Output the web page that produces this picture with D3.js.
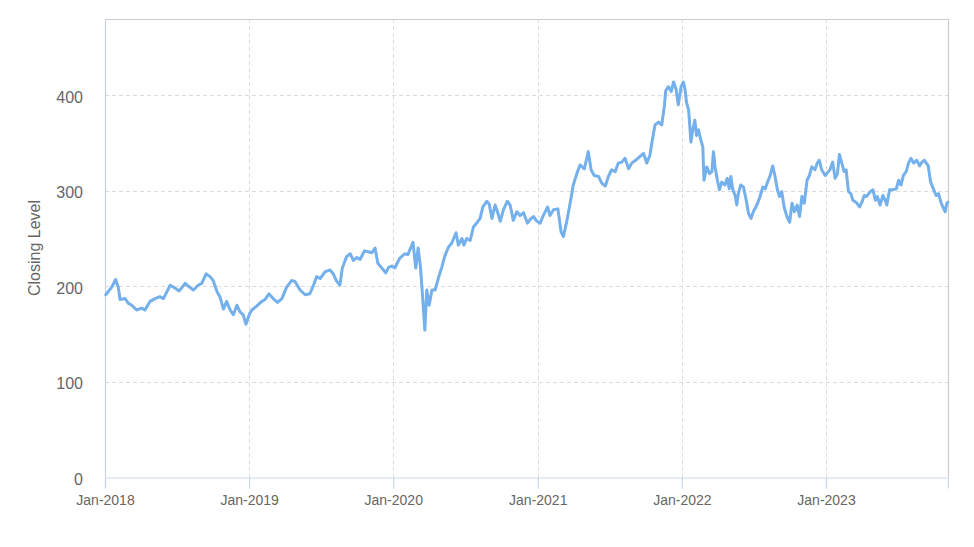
<!DOCTYPE html>
<html>
<head>
<meta charset="utf-8">
<script src="https://cdn.jsdelivr.net/npm/d3@7"></script>
<style>
  html, body { margin: 0; padding: 0; background: #ffffff; }
  svg { display: block; font-family: "Liberation Sans", Arial, sans-serif; }
</style>
</head>
<body>
<svg id="chart" width="974" height="547"></svg>
<script>
// ---- data ----
const dates = [
  "2018-01-03","2018-01-18","2018-01-28","2018-02-04","2018-02-08","2018-02-21","2018-03-01","2018-03-10","2018-03-22","2018-04-04",
  "2018-04-12","2018-04-25","2018-05-08","2018-05-20","2018-05-29","2018-06-15","2018-06-27","2018-07-08","2018-07-23","2018-08-03",
  "2018-08-13","2018-08-25","2018-09-03","2018-09-14","2018-09-24","2018-10-02","2018-10-12","2018-10-19","2018-10-28","2018-11-05",
  "2018-11-14","2018-11-22","2018-12-01","2018-12-09","2018-12-17","2018-12-24","2019-01-02","2019-01-08","2019-01-20","2019-02-02",
  "2019-02-10","2019-02-20","2019-03-03","2019-03-14","2019-03-25","2019-04-06","2019-04-19","2019-04-27","2019-05-10","2019-05-23",
  "2019-06-04","2019-06-13","2019-06-21","2019-06-30","2019-07-12","2019-07-25","2019-08-02","2019-08-11","2019-08-19","2019-08-25",
  "2019-09-05","2019-09-14","2019-09-22","2019-10-01","2019-10-09","2019-10-20","2019-10-30","2019-11-08","2019-11-16","2019-11-23",
  "2019-12-03","2019-12-13","2019-12-21","2019-12-28","2020-01-05","2020-01-17","2020-01-30","2020-02-07","2020-02-20","2020-02-27",
  "2020-03-04","2020-03-10","2020-03-15","2020-03-21","2020-03-26","2020-04-01","2020-04-08","2020-04-16","2020-04-24","2020-05-03",
  "2020-05-11","2020-05-20","2020-05-28","2020-06-08","2020-06-14","2020-06-23","2020-06-28","2020-07-05","2020-07-14","2020-07-22",
  "2020-08-01","2020-08-08","2020-08-15","2020-08-25","2020-08-31","2020-09-07","2020-09-15","2020-09-21","2020-09-28","2020-10-06",
  "2020-10-16","2020-10-23","2020-10-31","2020-11-09","2020-11-17","2020-11-26","2020-12-06","2020-12-13","2020-12-21","2020-12-30",
  "2021-01-07","2021-01-15","2021-01-26","2021-02-01","2021-02-10","2021-02-21","2021-03-01","2021-03-07","2021-03-16","2021-03-24",
  "2021-04-01","2021-04-10","2021-04-18","2021-04-29","2021-05-09","2021-05-16","2021-05-24","2021-06-04","2021-06-12","2021-06-21",
  "2021-06-29","2021-07-07","2021-07-16","2021-07-24","2021-08-02","2021-08-10","2021-08-19","2021-08-27","2021-09-09","2021-09-17",
  "2021-09-26","2021-10-04","2021-10-12","2021-10-18","2021-10-25","2021-11-03","2021-11-11","2021-11-18","2021-11-21","2021-11-28",
  "2021-12-05","2021-12-11","2021-12-17","2021-12-23","2021-12-30","2022-01-05","2022-01-09","2022-01-13","2022-01-18","2022-01-24",
  "2022-01-29","2022-02-03","2022-02-07","2022-02-12","2022-02-18","2022-02-23","2022-02-26","2022-03-05","2022-03-12","2022-03-18",
  "2022-03-22","2022-03-26","2022-04-01","2022-04-06","2022-04-12","2022-04-20","2022-04-26","2022-05-01","2022-05-05","2022-05-10",
  "2022-05-16","2022-05-20","2022-05-24","2022-05-30","2022-06-06","2022-06-13","2022-06-19","2022-06-25","2022-07-01","2022-07-10",
  "2022-07-18","2022-07-25","2022-07-31","2022-08-06","2022-08-12","2022-08-19","2022-08-25","2022-08-31","2022-09-05","2022-09-11",
  "2022-09-17","2022-09-24","2022-10-01","2022-10-07","2022-10-13","2022-10-20","2022-10-26","2022-11-01","2022-11-07","2022-11-14",
  "2022-11-20","2022-11-26","2022-12-04","2022-12-10","2022-12-15","2022-12-21","2022-12-30","2023-01-03","2023-01-07","2023-01-11",
  "2023-01-18","2023-01-24","2023-01-30","2023-02-04","2023-02-10","2023-02-16","2023-02-21","2023-02-27","2023-03-05","2023-03-10",
  "2023-03-18","2023-03-27","2023-04-02","2023-04-08","2023-04-14","2023-04-23","2023-04-30","2023-05-06","2023-05-11","2023-05-18",
  "2023-05-25","2023-05-31","2023-06-04","2023-06-11","2023-06-19","2023-06-28","2023-07-04","2023-07-10","2023-07-16","2023-07-23",
  "2023-07-29","2023-08-04","2023-08-11","2023-08-19","2023-08-26","2023-09-01","2023-09-07","2023-09-12","2023-09-17","2023-09-23",
  "2023-09-30","2023-10-07","2023-10-13","2023-10-19","2023-10-24","2023-10-30","2023-11-03","2023-11-06"
];
const closes = [
  191,199,207,198,186,187,182,180,175,177,
  175,184,187,189,187,201,198,195,203,199,
  196,201,203,213,210,206,194,189,176,184,
  175,170,180,173,170,160,171,175,179,184,
  186,192,187,183,187,199,206,205,196,191,
  192,201,210,208,215,217,213,205,201,219,
  231,234,227,230,228,237,236,235,240,224,
  219,214,220,221,219,229,234,233,246,219,
  240,220,191,154,196,180,196,196,208,220,
  232,241,245,256,243,250,243,250,248,262,
  267,271,283,289,286,271,285,278,268,280,
  289,285,269,278,274,277,266,270,273,268,
  266,274,283,274,280,281,257,252,269,287,
  306,318,327,323,341,322,316,315,308,305,
  315,322,320,329,330,334,323,329,333,336,
  339,329,337,353,369,372,369,390,405,409,
  404,414,407,390,409,414,406,392,385,351,
  365,374,358,364,353,346,311,325,318,320,
  341,325,311,301,309,306,313,302,315,301,
  295,285,297,306,304,290,276,271,278,285,
  294,304,302,309,315,326,315,301,294,299,
  283,273,267,287,278,285,273,294,287,311,
  316,325,322,329,332,322,316,318,320,322,
  330,313,318,338,329,320,322,299,297,290,
  288,283,288,295,294,299,301,290,294,285,
  295,290,285,301,301,302,311,306,316,320,
  329,334,329,332,326,330,332,329,326,309,
  302,295,297,288,283,278,287,288
];
const yTicks = [0, 100, 200, 300, 400];
const xTickLabels = ["Jan-2018","Jan-2019","Jan-2020","Jan-2021","Jan-2022","Jan-2023"];
const xTickDates = ["2018-01-01","2019-01-01","2020-01-01","2021-01-01","2022-01-01","2023-01-01"];
const yTitle = "Closing Level";

// ---- drawing ----
const parse = d3.timeParse("%Y-%m-%d");
const data = dates.map((d, i) => ({ date: parse(d), value: closes[i] }));

const svg = d3.select("#chart");
const plot = { left: 105, right: 948, top: 19, bottom: 477 };

const x = d3.scaleTime()
  .domain([parse("2018-01-01"), data[data.length - 1].date])
  .range([plot.left, plot.right]);
const y = d3.scaleLinear().domain([0, 480]).range([plot.bottom, plot.top]);

svg.append("rect").attr("width", 974).attr("height", 547).attr("fill", "#ffffff");

// horizontal grid
svg.append("g").selectAll("line").data(yTicks.filter(v => v > 0)).join("line")
  .attr("x1", plot.left).attr("x2", plot.right)
  .attr("y1", d => Math.round(y(d)) + 0.5).attr("y2", d => Math.round(y(d)) + 0.5)
  .attr("stroke", "#dcdcdc").attr("stroke-width", 1).attr("stroke-dasharray", "4,3");

// vertical grid
const xTicks = xTickDates.map(parse);
svg.append("g").selectAll("line").data(xTicks.slice(1)).join("line")
  .attr("x1", d => Math.round(x(d)) + 0.5).attr("x2", d => Math.round(x(d)) + 0.5)
  .attr("y1", plot.top).attr("y2", plot.bottom)
  .attr("stroke", "#dcdcdc").attr("stroke-width", 1).attr("stroke-dasharray", "4,3");

// plot border (top, right)
svg.append("path")
  .attr("d", `M${plot.left},${plot.top + 0.5}H${plot.right + 0.5}V${plot.bottom}`)
  .attr("fill", "none").attr("stroke", "#cccccc").attr("stroke-width", 1.2);
// left axis line
svg.append("line")
  .attr("x1", plot.left + 0.5).attr("x2", plot.left + 0.5)
  .attr("y1", plot.top).attr("y2", plot.bottom)
  .attr("stroke", "#c9d0de").attr("stroke-width", 1.2);

// x axis
const xAxis = d3.axisBottom(x)
  .tickValues(xTicks)
  .tickSize(11)
  .tickPadding(7)
  .tickFormat((d, i) => xTickLabels[i]);
const gx = svg.append("g").attr("transform", `translate(0,${plot.bottom + 0.5})`).call(xAxis);
gx.select(".domain").attr("stroke", "#ccd6eb").attr("stroke-width", 1.2);
gx.selectAll(".tick line").attr("stroke", "#ccd6eb").attr("stroke-width", 1.2);
gx.selectAll(".tick text").attr("fill", "#666666").attr("font-size", 14)
  .attr("font-family", "Liberation Sans, Arial, sans-serif");

// y axis labels
const yAxis = d3.axisLeft(y).tickValues(yTicks).tickSize(0).tickPadding(22).tickFormat(d3.format("d"));
const gy = svg.append("g").attr("transform", `translate(${plot.left},0)`).call(yAxis);
gy.select(".domain").remove();
gy.selectAll(".tick text").attr("fill", "#666666").attr("font-size", 16)
  .attr("dy", "0.45em")
  .attr("font-family", "Liberation Sans, Arial, sans-serif");

// y title
svg.append("text")
  .attr("transform", `translate(40,${(plot.top + plot.bottom) / 2}) rotate(-90)`)
  .attr("text-anchor", "middle")
  .attr("fill", "#666666").attr("font-size", 16)
  .text(yTitle);

// series line
const line = d3.line().x(d => x(d.date)).y(d => y(d.value));
svg.append("path").datum(data)
  .attr("d", line)
  .attr("fill", "none")
  .attr("stroke", "#74b0eb")
  .attr("stroke-width", 3)
  .attr("stroke-linejoin", "round")
  .attr("stroke-linecap", "round");
</script>
</body>
</html>
